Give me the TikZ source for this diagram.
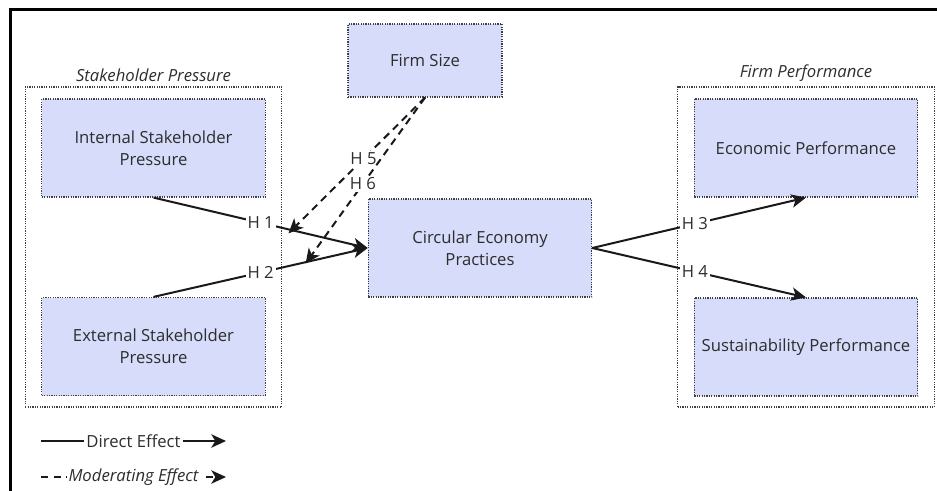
\documentclass[tikz,border=0pt]{standalone}
\usepackage{fontspec}
\setmainfont{Open Sans}
\usetikzlibrary{arrows.meta}

\definecolor{boxfill}{RGB}{214,220,250}
\definecolor{inktext}{RGB}{45,45,45}

\tikzset{
  varbox/.style={rectangle, draw=black!75, line width=0.9pt, dash pattern=on 0.9pt off 0.9pt,
    fill=boxfill, text=inktext, align=center, minimum width=167.5pt, minimum height=73.5pt,
    font=\fontsize{12.5}{16.5}\selectfont},
  groupbox/.style={rectangle, draw=black!75, line width=0.9pt, dash pattern=on 0.9pt off 0.9pt,
    minimum width=192.5pt, minimum height=240pt},
  grouplabel/.style={anchor=south, text=inktext, font=\fontsize{12.5}{14}\selectfont\itshape},
  direct/.style={draw=black!90, line width=1.5pt, -{Stealth[length=11pt,width=10pt,inset=3pt]}},
  moderating/.style={direct, dash pattern=on 5.5pt off 4pt},
  elabel/.style={fill=white, text=inktext, inner sep=1.5pt, font=\fontsize{12.5}{14}\selectfont}
}

\begin{document}
\begin{tikzpicture}[x=0.75pt, y=-0.75pt]
\useasboundingbox (0,0) rectangle (937,491);

% Frame
\draw[line width=2.2pt] (10.5,491) |- (937,9.5);

% Groups
\node[groupbox] (grpL) at (153.5,247) {};
\node[grouplabel] at (grpL.north) {Stakeholder Pressure};
\node[groupbox] (grpR) at (806,247) {};
\node[grouplabel] at (grpR.north) {Firm Performance};

% Constructs
\node[varbox] (isp) at (153.5,148) {Internal Stakeholder\\Pressure};
\node[varbox] (esp) at (153.5,346.5) {External Stakeholder\\Pressure};
\node[varbox] (cep) at (480,248) {Circular Economy\\Practices};
\node[varbox, minimum width=115.5pt, minimum height=54.75pt] (fsz) at (425,60.5) {Firm Size};
\node[varbox] (ecp) at (806,148) {Economic Performance};
\node[varbox] (ssp) at (806,347) {Sustainability Performance};

% Direct effects
\draw[direct] (isp.south) -- coordinate[pos=0.63] (m1) node[elabel, pos=0.5] {H 1} (cep.west);
\draw[direct] (esp.north) -- coordinate[pos=0.71] (m2) node[elabel, pos=0.5] {H 2} (cep.west);
\draw[direct] (cep.east) -- node[elabel, pos=0.48] {H 3} (ecp.south);
\draw[direct] (cep.east) -- node[elabel, pos=0.48] {H 4} (ssp.north);

% Moderating effects
\draw[moderating] (fsz.south) -- node[elabel, pos=0.45] {H 5} ([yshift=-3]m1);
\draw[moderating] (fsz.south) -- node[elabel, pos=0.52] {H 6} ([yshift=-1]m2);

% Legend
\coordinate (d1) at (41,441);
\coordinate (d2) at (226,441);
\draw[direct] (d1) -- node[elabel] {Direct Effect} (d2);
\coordinate (e1) at (41,477);
\coordinate (e2) at (226,477);
\draw[moderating] (e1) -- node[elabel, font=\fontsize{12.5}{14}\selectfont\itshape] {Moderating Effect} (e2);

\end{tikzpicture}
\end{document}
